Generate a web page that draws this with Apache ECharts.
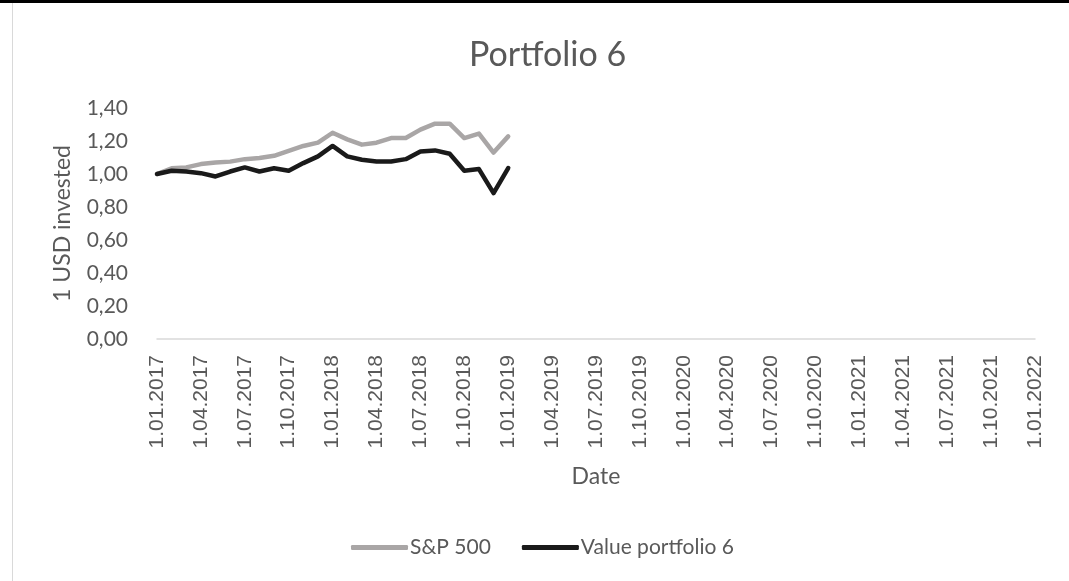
<!DOCTYPE html>
<html>
<head>
<meta charset="utf-8">
<title>Portfolio 6</title>
<script src="https://cdn.jsdelivr.net/npm/echarts@6/dist/echarts.min.js"></script>
<style>
  html, body { margin: 0; padding: 0; background: #fff; }
  #chart { width: 1069px; height: 581px; }
</style>
</head>
<body>
<div id="chart"></div>
<script>
// monthly axis Jan 2017 .. Jan 2022, label every quarter
const months = [];
for (let y = 2017; y <= 2022; y++) {
  for (let m = 1; m <= 12; m++) {
    if (y === 2022 && m > 1) break;
    months.push('1.' + (m < 10 ? '0' + m : m) + '.' + y);
  }
}

// values, Jan 2017 .. Jan 2019
const sp500 = [1.00, 1.035, 1.04, 1.06, 1.07, 1.075, 1.09, 1.097, 1.11, 1.14, 1.17, 1.19,
  1.25, 1.21, 1.178, 1.19, 1.218, 1.218, 1.269, 1.305, 1.305, 1.218, 1.245, 1.13, 1.228];
const portfolio6 = [1.00, 1.02, 1.015, 1.005, 0.985, 1.015, 1.04, 1.015, 1.035, 1.02, 1.066, 1.107,
  1.17, 1.107, 1.086, 1.076, 1.076, 1.09, 1.137, 1.143, 1.123, 1.02, 1.03, 0.884, 1.036];

const yTicks = { min: 0, max: 1.4, step: 0.2 };

const txt = '#595959';
const calibri = 'Lato, "Open Sans", sans-serif';

const chart = echarts.init(document.getElementById('chart'));
chart.setOption({
  backgroundColor: '#fff',
  animation: false,
  graphic: [
    { type: 'rect', shape: { x: 0, y: 0, width: 1069, height: 3 }, style: { fill: '#000' } },
    { type: 'rect', shape: { x: 12, y: 3, width: 1, height: 578 }, style: { fill: '#d9d9d9' } }
  ],
  title: {
    text: 'Portfolio 6',
    left: 464,
    top: 33,
    textStyle: { color: txt, fontFamily: calibri, fontSize: 34, fontWeight: 'normal' }
  },
  legend: {
    bottom: 18,
    left: 346,
    itemWidth: 57,
    itemHeight: 5,
    itemGap: 31,
    icon: 'roundRect',
    textStyle: { color: txt, fontFamily: calibri, fontSize: 21, padding: [0, 0, 0, -3] },
    data: ['S&P 500', 'Value portfolio 6']
  },
  grid: { left: 157, right: 34, top: 108, bottom: 581 - 339 },
  xAxis: {
    type: 'category',
    data: months,
    boundaryGap: false,
    name: 'Date',
    nameLocation: 'middle',
    nameGap: 126,
    nameTextStyle: { color: txt, fontFamily: calibri, fontSize: 23 },
    axisLine: { lineStyle: { color: '#d9d9d9', width: 1.5 } },
    axisTick: { show: false },
    axisLabel: {
      interval: 2,
      rotate: 90,
      margin: 16,
      color: txt,
      fontFamily: '"Liberation Sans", Arial, sans-serif',
      fontSize: 21
    }
  },
  yAxis: {
    type: 'value',
    min: yTicks.min,
    max: yTicks.max,
    interval: yTicks.step,
    name: '1 USD invested',
    nameLocation: 'middle',
    nameGap: 83,
    nameTextStyle: { color: txt, fontFamily: calibri, fontSize: 23 },
    axisLine: { show: false },
    axisTick: { show: false },
    splitLine: { show: false },
    axisLabel: {
      color: txt,
      fontFamily: calibri,
      fontSize: 21,
      margin: 29,
      formatter: v => v.toFixed(2).replace('.', ',')
    }
  },
  series: [
    {
      name: 'S&P 500',
      type: 'line',
      data: sp500,
      symbol: 'none',
      color: '#a9a6a6',
      lineStyle: { width: 4.5, color: '#a9a6a6', join: 'round', cap: 'round' }
    },
    {
      name: 'Value portfolio 6',
      type: 'line',
      data: portfolio6,
      symbol: 'none',
      color: '#1a1a1a',
      lineStyle: { width: 4.5, color: '#1a1a1a', join: 'round', cap: 'round' }
    }
  ]
});
</script>
</body>
</html>
